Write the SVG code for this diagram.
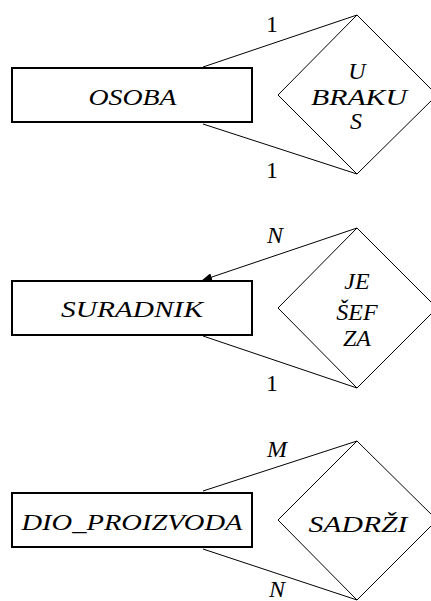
<svg xmlns="http://www.w3.org/2000/svg" width="431" height="601" viewBox="0 0 431 601">
<style>
.ent{fill:#fff;stroke:#000;stroke-width:2}
.rel{fill:none;stroke:#000;stroke-width:1}
.t{font-family:"Liberation Serif","DejaVu Serif",serif;font-style:italic;font-size:24px;fill:#000;text-anchor:middle}
.n{font-family:"Liberation Serif","DejaVu Serif",serif;font-size:24px;fill:#000;text-anchor:middle}
.c{stroke:#000;stroke-width:1;fill:none}
</style>
<defs>
<marker id="ah" markerWidth="10" markerHeight="8" refX="9" refY="4" orient="auto" markerUnits="userSpaceOnUse">
<path d="M0,0 L10,4 L0,8 Z" fill="#000"/>
</marker>
</defs>
<g id="connectors">
<line class="c" x1="357" y1="15" x2="203" y2="67"/>
<line class="c" x1="357" y1="174" x2="203" y2="124"/>
<line class="c" x1="357" y1="228" x2="203" y2="280" marker-end="url(#ah)"/>
<line class="c" x1="357" y1="388" x2="203" y2="336"/>
<line class="c" x1="357" y1="441" x2="203" y2="491"/>
<line class="c" x1="357" y1="600" x2="203" y2="549"/>
<text class="n" x="272" y="32">1</text>
<text class="n" x="272" y="178">1</text>
<text class="t" x="275" y="243">N</text>
<text class="n" x="272" y="391">1</text>
<text class="t" x="277" y="457">M</text>
<text class="t" x="277" y="597">N</text>
</g>
<g id="osoba">
<rect class="ent" x="12" y="68" width="240" height="54"/>
<text class="t" x="132.5" y="105" textLength="88" lengthAdjust="spacingAndGlyphs">OSOBA</text>
</g>
<g id="u_braku_s">
<polygon class="rel" points="357,15 437,95 357,174 278,95"/>
<text class="t" x="357" y="79">U</text>
<text class="t" x="359" y="105" textLength="96" lengthAdjust="spacingAndGlyphs">BRAKU</text>
<text class="t" x="356" y="129">S</text>
</g>
<g id="suradnik">
<rect class="ent" x="12" y="281" width="240" height="54"/>
<text class="t" x="132" y="317" textLength="142" lengthAdjust="spacingAndGlyphs">SURADNIK</text>
</g>
<g id="je_sef_za">
<polygon class="rel" points="357,228 437,308 357,388 278,308"/>
<text class="t" x="357" y="289">JE</text>
<text class="t" x="357" y="320">ŠEF</text>
<text class="t" x="357" y="346">ZA</text>
</g>
<g id="dio_proizvoda">
<rect class="ent" x="12" y="493" width="240" height="54" stroke-width="2.5"/>
<text class="t" x="132" y="529.5" textLength="221" lengthAdjust="spacingAndGlyphs">DIO_PROIZVODA</text>
</g>
<g id="sadrzi">
<polygon class="rel" points="357,441 437,520 357,600 278,520"/>
<text class="t" x="358" y="532" textLength="99" lengthAdjust="spacingAndGlyphs">SADRŽI</text>
</g>
</svg>
